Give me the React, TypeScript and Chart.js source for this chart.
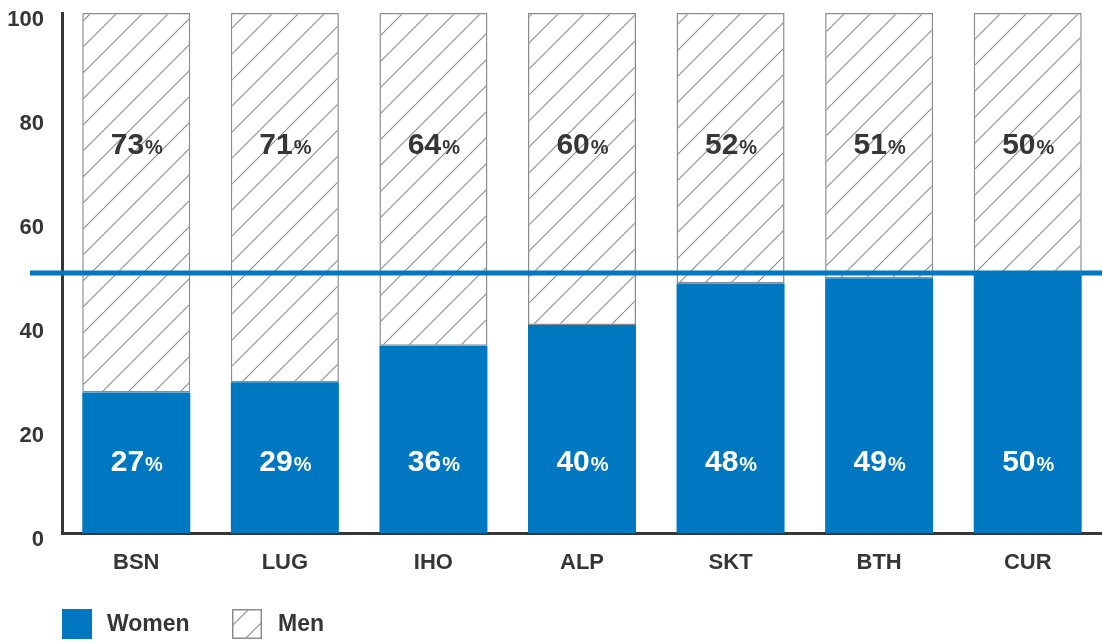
import React, { useEffect, useRef } from "react";
import { Chart, registerables } from "chart.js";

Chart.register(...registerables);

const categories = ["BSN", "LUG", "IHO", "ALP", "SKT", "BTH", "CUR"];
const women = [27, 29, 36, 40, 48, 49, 50];
const men = [73, 71, 64, 60, 52, 51, 50];
const yTicks = [0, 20, 40, 60, 80, 100];
const parityLine = 50;
const menLabelAt = 75;
const womenLabelAt = 14;

const BLUE = "#0078C1";
const DARK = "#363636";
const HATCH = "#8c8c8c";
const FONT = "'Liberation Sans', Arial, Helvetica, sans-serif";

function makeHatch(): CanvasPattern | string {
  const s = 26;
  const c = document.createElement("canvas");
  c.width = s;
  c.height = s;
  const g = c.getContext("2d");
  if (!g) return "#fff";
  g.fillStyle = "#ffffff";
  g.fillRect(0, 0, s, s);
  g.strokeStyle = HATCH;
  g.lineWidth = 1.1;
  g.beginPath();
  g.moveTo(-2, s + 2);
  g.lineTo(s + 2, -2);
  g.moveTo(-2 - s, s + 2);
  g.lineTo(2, -2);
  g.moveTo(s - 2, 2 * s + 2);
  g.lineTo(2 * s + 2, s - 2);
  g.stroke();
  const p = g.createPattern(c, "repeat");
  return p || "#fff";
}

export default function App() {
  const ref = useRef<HTMLCanvasElement | null>(null);

  useEffect(() => {
    if (!ref.current) return;
    const hatch = makeHatch();

    const overlay = {
      id: "overlay",
      afterDatasetsDraw(chart: any) {
        const ctx = chart.ctx;
        const y = chart.scales.y;
        const ly = y.getPixelForValue(parityLine);
        ctx.save();
        ctx.strokeStyle = BLUE;
        ctx.lineWidth = 5;
        ctx.beginPath();
        ctx.moveTo(30, ly);
        ctx.lineTo(chart.width, ly);
        ctx.stroke();

        const drawLabel = (x: number, yv: number, val: number, color: string) => {
          const num = String(val);
          ctx.font = `bold 30px ${FONT}`;
          const w1 = ctx.measureText(num).width;
          ctx.font = `bold 20px ${FONT}`;
          const w2 = ctx.measureText("%").width;
          const start = x - (w1 + w2) / 2;
          const base = y.getPixelForValue(yv) + 10.7;
          ctx.fillStyle = color;
          ctx.textAlign = "left";
          ctx.textBaseline = "alphabetic";
          ctx.font = `bold 30px ${FONT}`;
          ctx.fillText(num, start, base);
          ctx.font = `bold 20px ${FONT}`;
          ctx.fillText("%", start + w1 + 1, base);
        };
        const meta0 = chart.getDatasetMeta(0);
        meta0.data.forEach((el: any, i: number) => {
          drawLabel(el.x, womenLabelAt, women[i], "#ffffff");
          drawLabel(el.x, menLabelAt, men[i], DARK);
        });

        const top = chart.height - 33;
        ctx.fillStyle = BLUE;
        ctx.fillRect(62, top, 30, 30);
        ctx.fillStyle = hatch as any;
        ctx.fillRect(232, top, 30, 30);
        ctx.strokeStyle = HATCH;
        ctx.lineWidth = 1.5;
        ctx.strokeRect(232.75, top + 0.75, 28.5, 28.5);
        ctx.fillStyle = DARK;
        ctx.font = `bold 23px ${FONT}`;
        ctx.textBaseline = "middle";
        ctx.fillText("Women", 107, top + 16);
        ctx.fillText("Men", 278, top + 16);
        ctx.restore();
      },
    };

    const chart = new Chart(ref.current, {
      type: "bar",
      data: {
        labels: categories,
        datasets: [
          {
            label: "Women",
            data: women,
            backgroundColor: BLUE,
            borderWidth: 0,
            barPercentage: 0.727,
            categoryPercentage: 1,
          },
          {
            label: "Men",
            data: men,
            backgroundColor: hatch as any,
            borderColor: HATCH,
            borderWidth: 1.5,
            borderSkipped: false,
            barPercentage: 0.727,
            categoryPercentage: 1,
          },
        ],
      },
      options: {
        animation: false,
        responsive: false,
        maintainAspectRatio: false,
        layout: { padding: { top: 13, bottom: 60, left: 0, right: 0 } },
        plugins: { legend: { display: false }, tooltip: { enabled: false } },
        scales: {
          x: {
            stacked: true,
            grid: { display: false, drawTicks: false },
            border: { display: true, color: DARK, width: 3 },
            ticks: {
              color: DARK,
              font: { family: FONT, size: 22, weight: "bold" },
              padding: 17,
            },
            afterFit: (s: any) => {
              s.height = 49;
              s.paddingLeft = 0;
              s.paddingRight = 0;
            },
          },
          y: {
            stacked: true,
            min: 0,
            max: 100,
            afterBuildTicks: (s: any) => {
              s.ticks = yTicks.map((v) => ({ value: v }));
            },
            grid: { display: false, drawTicks: false },
            border: { display: true, color: DARK, width: 3 },
            ticks: {
              color: DARK,
              font: { family: FONT, size: 22, weight: "bold" },
              padding: 18,
              labelOffset: 7,
            },
            afterFit: (s: any) => {
              s.width = 62;
              s.paddingTop = 0;
              s.paddingBottom = 0;
            },
          },
        },
      },
      plugins: [overlay],
    });
    return () => chart.destroy();
  }, []);

  return (
    <div style={{ position: "absolute", left: 0, top: 0, width: 1102, height: 642 }}>
      <canvas ref={ref} width={1102} height={642} style={{ width: 1102, height: 642 }} />
    </div>
  );
}
